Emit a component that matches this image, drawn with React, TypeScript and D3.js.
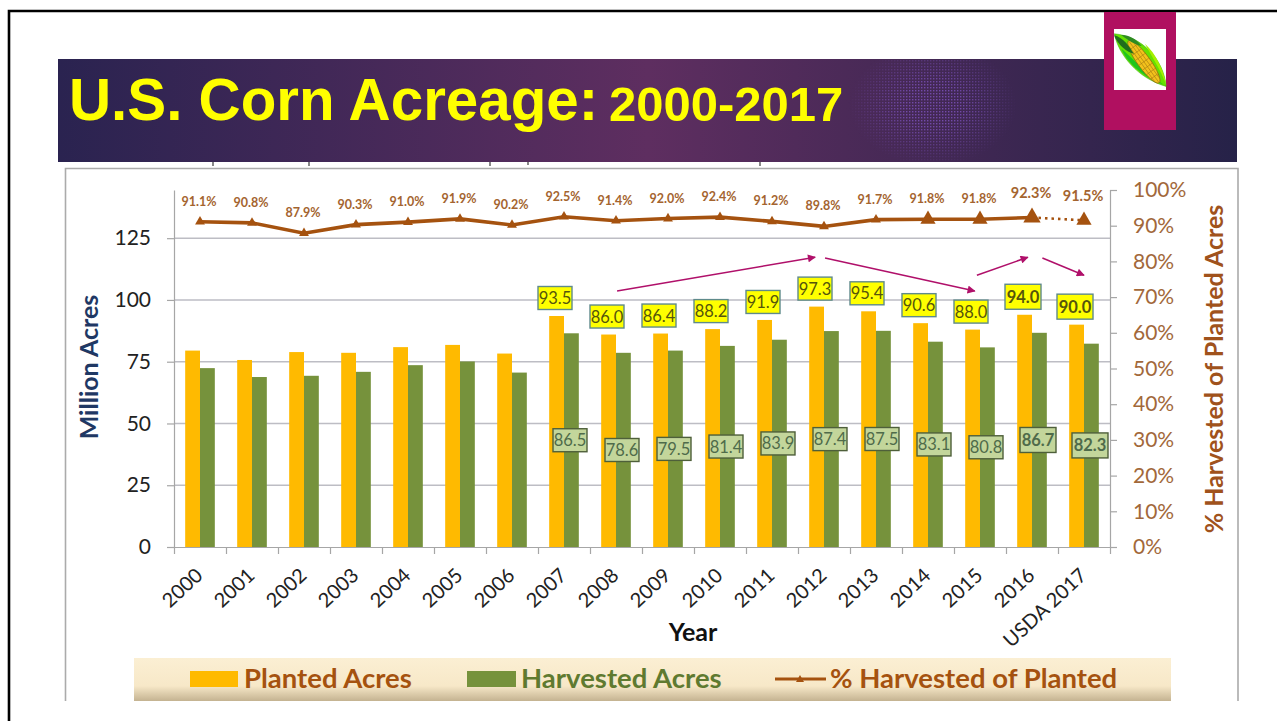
import React, { useEffect, useRef } from 'react';
import * as d3 from 'd3';

const categories = ['2000', '2001', '2002', '2003', '2004', '2005', '2006', '2007', '2008', '2009', '2010', '2011', '2012', '2013', '2014', '2015', '2016', 'USDA 2017'];
const plantedAcres = [79.5, 75.7, 78.9, 78.6, 80.9, 81.8, 78.3, 93.5, 86.0, 86.4, 88.2, 91.9, 97.3, 95.4, 90.6, 88.0, 94.0, 90.0];
const harvestedAcres = [72.4, 68.8, 69.3, 70.9, 73.6, 75.1, 70.6, 86.5, 78.6, 79.5, 81.4, 83.9, 87.4, 87.5, 83.1, 80.8, 86.7, 82.3];
const pctHarvested = [91.1, 90.8, 87.9, 90.3, 91.0, 91.9, 90.2, 92.5, 91.4, 92.0, 92.4, 91.2, 89.8, 91.7, 91.8, 91.8, 92.3, 91.5];

const acreTicks = [0, 25, 50, 75, 100, 125];
const pctTicks = [0, 10, 20, 30, 40, 50, 60, 70, 80, 90, 100];

// trend arrows: [category position, acres] -> [category position, acres]
const arrowStarts: [number, number][] = [[8.52, 103.6], [12.52, 117], [15.44, 110], [16.7, 117]];
const arrowEnds: [number, number][] = [[12.33, 117.3], [15.4, 103.6], [16.42, 117.3], [17.5, 110]];

const ORANGE = '#FFBA00';
const GREEN = '#76923C';
const BROWN = '#A5520F';
const MAGENTA = '#B0106A';
const AXIS_GRAY = '#A6A6A6';

const x0 = 174;
const x1 = 1110;
const yBottom = 547;
const yTop = 190;
const FONT = 'Lato, Carlito, sans-serif';

const CornIcon: React.FC = () => (
  <g transform="translate(1139.5,60) rotate(-36) translate(3,0)">
    <path d="M-8,-36 C-17,-16 -15,14 3,37 C17,14 13,-18 -8,-36 Z" fill="#66E000" stroke="#3FAF10" strokeWidth={0.5} />
    <path d="M-11,-20 C-15,-4 -9,18 2,34 C-5,14 -8,-6 -11,-20 Z" fill="#1FC41C" />
    <path d="M11,-10 C14,4 11,22 4,36 C9,18 9,2 11,-10 Z" fill="#A4F000" />
    <ellipse cx={-0.5} cy={4} rx={6.4} ry={26} fill="#F2C21C" stroke="#8A6A10" strokeWidth={0.7} />
    <path d="M-3.5,-18 V26 M-0.5,-21 V29 M2.5,-18 V26 M-6,-8 H5 M-6.5,-2 H5.5 M-6.5,4 H5.5 M-6.5,10 H5.5 M-6,16 H5 M-5,22 H4 M-5,-14 H4" stroke="#A87C12" strokeWidth={0.6} fill="none" />
    <path d="M-9,-35 C-12,-24 -8,-14 -4,-8 C-3,-18 -3,-28 -9,-35 Z" fill="#1F6E1C" />
    <path d="M-3,-31 C-1,-23 3,-14 7,-10 C7,-19 3,-27 -3,-31 Z" fill="#2E8A22" />
  </g>
);

const App: React.FC = () => {
  const chartRef = useRef<SVGGElement>(null);

  useEffect(() => {
    if (!chartRef.current) return;
    const g = d3.select(chartRef.current);
    g.selectAll('*').remove();

    const x = d3.scaleBand<string>().domain(categories).range([x0, x1]).paddingInner(0.43).paddingOuter(0.215);
    const series = d3.scaleBand<string>().domain(['planted', 'harvested']).range([0, x.bandwidth()]);
    const xCenter = d3.scaleLinear().domain([0, categories.length]).range([x0, x1]);
    const yAcres = d3.scaleLinear().domain([0, 144.5]).range([yBottom, yTop]);
    const yPct = d3.scaleLinear().domain([0, 100]).range([yBottom, yTop]);
    // the harvested call-outs sit mid-bar, loosely following the value
    const harvestedLabelY = d3.scaleLinear().domain([78.6, 87.5]).range([450, 439]);

    // gridlines
    g.append('g')
      .selectAll('line')
      .data(acreTicks.filter((d) => d > 0))
      .enter()
      .append('line')
      .attr('x1', x0)
      .attr('x2', x1)
      .attr('y1', (d) => yAcres(d))
      .attr('y2', (d) => yAcres(d))
      .attr('stroke', '#BDBDC4')
      .attr('stroke-width', 1.4);

    // bars
    const bars = g.append('g');
    bars
      .selectAll('rect.planted')
      .data(plantedAcres)
      .enter()
      .append('rect')
      .attr('class', 'planted')
      .attr('x', (_d, i) => (x(categories[i]) ?? 0) + (series('planted') ?? 0))
      .attr('y', (d) => yAcres(d))
      .attr('width', series.bandwidth())
      .attr('height', (d) => yBottom - yAcres(d))
      .attr('fill', ORANGE);
    bars
      .selectAll('rect.harvested')
      .data(harvestedAcres)
      .enter()
      .append('rect')
      .attr('class', 'harvested')
      .attr('x', (_d, i) => (x(categories[i]) ?? 0) + (series('harvested') ?? 0))
      .attr('y', (d) => yAcres(d))
      .attr('width', series.bandwidth())
      .attr('height', (d) => yBottom - yAcres(d))
      .attr('fill', GREEN);

    const styleAxis = (sel: d3.Selection<SVGGElement, unknown, null, undefined>) => {
      sel.selectAll('path, line').attr('stroke', AXIS_GRAY).attr('stroke-width', 1.2);
      sel.selectAll('text').style('font-family', FONT);
    };

    // left axis
    const leftAxis = g
      .append('g')
      .attr('transform', `translate(${x0},0)`)
      .call(d3.axisLeft(yAcres).tickValues(acreTicks).tickSize(7).tickSizeOuter(0).tickPadding(16));
    styleAxis(leftAxis);
    leftAxis.selectAll('text').style('font-size', '21px').attr('fill', '#222');

    // right axis
    const rightAxis = g
      .append('g')
      .attr('transform', `translate(${x1},0)`)
      .call(
        d3
          .axisRight(yPct)
          .tickValues(pctTicks)
          .tickSize(7)
          .tickSizeOuter(7)
          .tickPadding(16)
          .tickFormat((d) => `${d}%`)
      );
    styleAxis(rightAxis);
    rightAxis.selectAll('text').style('font-size', '21px').attr('fill', '#A2683A');

    // x axis: tick marks between categories, labels on the categories
    const tickAxis = g
      .append('g')
      .attr('transform', `translate(0,${yBottom})`)
      .call(d3.axisBottom(xCenter).tickValues(d3.range(categories.length + 1)).tickSize(7).tickSizeOuter(0).tickFormat(() => ''));
    styleAxis(tickAxis);

    const labelAxis = g
      .append('g')
      .attr('transform', `translate(0,${yBottom})`)
      .call(d3.axisBottom(x).tickSize(0).tickPadding(0));
    labelAxis.select('path').remove();
    labelAxis
      .selectAll('text')
      .style('font-family', FONT)
      .style('font-size', '20px')
      .attr('fill', '#222')
      .attr('text-anchor', 'end')
      .attr('dy', 0)
      .attr('y', 0)
      .attr('transform', 'translate(4,30) rotate(-43)');

    // line series: solid up to 2016, dotted to the 2017 estimate
    const line = d3
      .line<number>()
      .x((_d, i) => xCenter(i + 0.5))
      .y((d) => yPct(d));
    g.append('path')
      .attr('d', line(pctHarvested.slice(0, -1)))
      .attr('fill', 'none')
      .attr('stroke', BROWN)
      .attr('stroke-width', 3.6);
    const lastPair = pctHarvested.slice(-2);
    g.append('path')
      .attr(
        'd',
        d3
          .line<number>()
          .x((_d, i) => xCenter(i + categories.length - 1.5))
          .y((d) => yPct(d))(lastPair)
      )
      .attr('fill', 'none')
      .attr('stroke', BROWN)
      .attr('stroke-width', 2.6)
      .attr('stroke-dasharray', '2.5 4');

    const triangle = d3.symbol().type(d3.symbolTriangle);
    g.append('g')
      .selectAll('path')
      .data(pctHarvested)
      .enter()
      .append('path')
      .attr('d', (_d, i) => triangle.size(i === 16 ? 130 : i >= 14 ? 100 : 42)())
      .attr('transform', (d, i) => `translate(${xCenter(i + 0.5)},${yPct(d)})`)
      .attr('fill', BROWN);

    g.append('g')
      .selectAll('text')
      .data(pctHarvested)
      .enter()
      .append('text')
      .attr('x', (_d, i) => xCenter(i + 0.5) - 1)
      .attr('y', (d, i) => yPct(d) - (i >= 16 ? 19 : 16))
      .attr('text-anchor', 'middle')
      .style('font-family', FONT)
      .style('font-weight', 700)
      .style('font-size', (_d, i) => (i >= 16 ? '14.5px' : '12.5px'))
      .attr('fill', '#A4642F')
      .text((d) => `${d.toFixed(1)}%`);

    // call-out boxes for 2007 onward
    const callouts = (
      values: number[],
      dx: number,
      cy: (v: number) => number,
      fill: string,
      stroke: string,
      textFill: string
    ) => {
      const group = g.append('g');
      values.forEach((v, i) => {
        if (i < 7) return;
        const bold = i >= 16;
        const cx = xCenter(i + 0.5) + dx;
        const w = bold ? 36 : 34;
        const h = bold ? 25 : 23;
        group
          .append('rect')
          .attr('x', cx - w / 2)
          .attr('y', cy(v) - h / 2)
          .attr('width', w)
          .attr('height', h)
          .attr('fill', fill)
          .attr('stroke', stroke)
          .attr('stroke-width', 1.4);
        group
          .append('text')
          .attr('x', cx)
          .attr('y', cy(v) + 6)
          .attr('text-anchor', 'middle')
          .style('font-family', FONT)
          .style('font-size', '16.5px')
          .style('font-weight', bold ? 700 : 400)
          .attr('fill', textFill)
          .text(v.toFixed(1));
      });
    };
    callouts(plantedAcres, -9, (v) => yAcres(v) - 18, '#FFFF00', '#5F8A8B', '#55550C');
    callouts(harvestedAcres, 6, (v) => harvestedLabelY(v), '#C3D69B', '#4E5F3A', '#4F6B4A');

    // trend arrows
    const defs = g.append('defs');
    defs
      .append('marker')
      .attr('id', 'trend-arrow')
      .attr('viewBox', '0 0 10 10')
      .attr('refX', 9)
      .attr('refY', 5)
      .attr('markerWidth', 9)
      .attr('markerHeight', 8)
      .attr('markerUnits', 'userSpaceOnUse')
      .attr('orient', 'auto')
      .append('path')
      .attr('d', 'M0,0 L10,5 L0,10 Z')
      .attr('fill', MAGENTA);
    g.append('g')
      .selectAll('line')
      .data(arrowStarts)
      .enter()
      .append('line')
      .attr('x1', (d) => xCenter(d[0]))
      .attr('y1', (d) => yAcres(d[1]))
      .attr('x2', (_d, i) => xCenter(arrowEnds[i][0]))
      .attr('y2', (_d, i) => yAcres(arrowEnds[i][1]))
      .attr('stroke', MAGENTA)
      .attr('stroke-width', 1.5)
      .attr('marker-end', 'url(#trend-arrow)');
  }, []);

  return (
    <svg width={1277} height={721} style={{ position: 'fixed', left: 0, top: 0, display: 'block', background: '#fff' }}>
      <defs>
        <linearGradient id="band" x1="0" x2="1" y1="0" y2="0">
          <stop offset="0" stopColor="#2A2350" />
          <stop offset="0.5" stopColor="#5E2E60" />
          <stop offset="1" stopColor="#262248" />
        </linearGradient>
        <linearGradient id="legend-band" x1="0" x2="0" y1="0" y2="1">
          <stop offset="0" stopColor="#FBEFD3" />
          <stop offset="0.65" stopColor="#F7E8C8" />
          <stop offset="1" stopColor="#C4B391" />
        </linearGradient>
        <pattern id="dots" width={3} height={3} patternUnits="userSpaceOnUse">
          <rect width={1.4} height={1.4} fill="#7A50B8" />
        </pattern>
        <radialGradient id="dots-fade">
          <stop offset="0.35" stopColor="#fff" stopOpacity={0.85} />
          <stop offset="1" stopColor="#fff" stopOpacity={0} />
        </radialGradient>
        <mask id="dots-mask">
          <ellipse cx={933} cy={105} rx={84} ry={62} fill="url(#dots-fade)" />
        </mask>
      </defs>

      {/* slide border */}
      <path d="M9,721 V11 H1277" fill="none" stroke="#000" strokeWidth={2.6} />

      {/* chart frame */}
      <path d="M65.5,701 V168.5 H1238 V701" fill="none" stroke="#ABABAB" strokeWidth={1.6} />

      {/* cut-off line of text behind the header */}
      <path d="M213,162 v4 M309,162 v4 M490,162 v4 M528,162 v3 M760,162 v4" stroke="#555" strokeWidth={1.4} />

      {/* header band */}
      <rect x={58} y={59} width={1179} height={103} fill="url(#band)" />
      <rect x={849} y={59} width={168} height={103} fill="url(#dots)" mask="url(#dots-mask)" />
      <text x={69} y={120} fontFamily="'Liberation Sans', sans-serif" fontWeight={700} fontSize={58.3} fill="#FFFF00">
        U.S. Corn Acreage:
      </text>
      <text x={609} y={121} fontFamily="'Liberation Sans', sans-serif" fontWeight={700} fontSize={49} fill="#FFFF00">
        2000-2017
      </text>

      {/* corn badge */}
      <rect x={1104} y={12} width={72} height={118} fill="#B01060" />
      <rect x={1114} y={29} width={52} height={61} fill="#fff" />
      <CornIcon />

      <g ref={chartRef} />

      {/* axis titles */}
      <text transform="translate(98,367) rotate(-90)" textAnchor="middle" fontFamily={FONT} fontWeight={700} fontSize={25} fill="#1F3864">
        Million Acres
      </text>
      <text transform="translate(1223,369) rotate(-90)" textAnchor="middle" fontFamily={FONT} fontWeight={700} fontSize={25} fill="#A0521C">
        % Harvested of Planted Acres
      </text>
      <text x={693} y={641} textAnchor="middle" fontFamily={FONT} fontWeight={700} fontSize={25} fill="#111">
        Year
      </text>

      {/* legend */}
      <rect x={134} y={658} width={1037} height={43} fill="url(#legend-band)" />
      <rect x={190} y={671} width={48} height={16} fill={ORANGE} />
      <text x={244} y={688} fontFamily={FONT} fontWeight={700} fontSize={27.5} fill={BROWN}>
        Planted Acres
      </text>
      <rect x={467} y={671} width={49} height={16} fill={GREEN} />
      <text x={521} y={688} fontFamily={FONT} fontWeight={700} fontSize={27.5} fill="#5F7A30">
        Harvested Acres
      </text>
      <line x1={775} x2={826} y1={679} y2={679} stroke={BROWN} strokeWidth={3.2} />
      <path d="M800,675 L804,682 H796 Z" fill={BROWN} />
      <text x={830} y={688} fontFamily={FONT} fontWeight={700} fontSize={27.5} fill={BROWN}>
        % Harvested of Planted
      </text>
    </svg>
  );
};

export default App;
